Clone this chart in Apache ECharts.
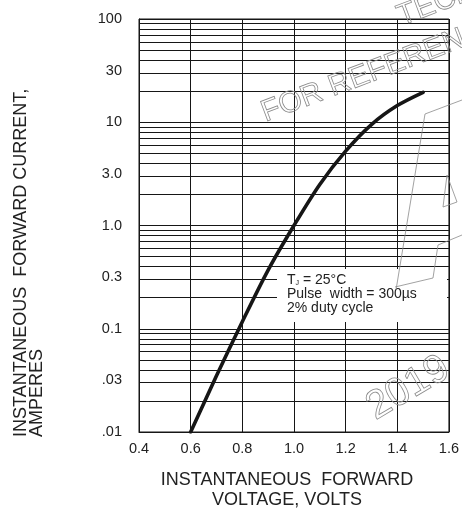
<!DOCTYPE html>
<html>
<head>
<meta charset="utf-8">
<script src="https://cdn.jsdelivr.net/npm/echarts@6/dist/echarts.min.js"></script>
<style>
  html, body { margin: 0; padding: 0; background: #fff; }
  #chart { width: 462px; height: 511px; }
</style>
</head>
<body>
<div id="chart"></div>
<script>
// forward voltage (V) and forward current (A)
const voltage = [0.6, 0.7, 0.8, 0.9, 1.0, 1.1, 1.2, 1.3, 1.4, 1.5];
const current = [0.01, 0.035, 0.117, 0.37, 1.0, 2.5, 5.25, 9.5, 14.5, 19.5];

const yTickLabels = ['.01', '.03', '0.1', '0.3', '1.0', '3.0', '10', '30', '100'];
const decades = [0.01, 0.1, 1, 10];
const minorSteps = [1, 2, 3, 4, 5, 6, 7, 8, 9];

const FONT = '"Liberation Sans", Arial, Helvetica, sans-serif';
const INK = '#161616';

// log grid lines: 1..9 x every decade, plus the top line
const gridValues = [];
decades.forEach(d => minorSteps.forEach(m => gridValues.push(Number((m * d).toPrecision(3)))));
gridValues.push(100);

const chart = echarts.init(document.getElementById('chart'));

const watermark = { fill: 'none', stroke: '#8a8a8a', lineWidth: 0.8 };

chart.setOption({
  animation: false,
  grid: {
    left: 139, right: 8, top: 19, bottom: 79,
    show: true, borderColor: INK, borderWidth: 1
  },
  xAxis: {
    type: 'value',
    min: 0.4, max: 1.6, interval: 0.2,
    axisLine: { show: true, lineStyle: { color: INK, width: 1 } },
    axisTick: { show: false },
    axisLabel: {
      margin: 9, color: '#222', fontSize: 14.5, fontFamily: FONT,
      formatter: v => v.toFixed(1)
    },
    splitLine: { show: true, lineStyle: { color: INK, width: 1 } }
  },
  yAxis: {
    type: 'log',
    logBase: Math.sqrt(10),
    min: 0.01, max: 100, splitNumber: 8,
    axisLine: { show: true, lineStyle: { color: INK, width: 1 } },
    axisTick: { show: false },
    axisLabel: {
      margin: 17, color: '#222', fontSize: 14.5, fontFamily: FONT,
      padding: [0, 0, 5, 0],
      formatter: (v, i) => yTickLabels[i]
    },
    splitLine: { show: false }
  },
  series: [{
    type: 'line',
    data: voltage.map((v, i) => [v, current[i]]),
    smooth: 0.3,
    showSymbol: false,
    lineStyle: { color: INK, width: 3.6, cap: 'round' },
    z: 5,
    markLine: {
      silent: true,
      symbol: 'none',
      label: { show: false },
      lineStyle: { color: INK, width: 1, type: 'solid' },
      data: gridValues.map(v => ({ yAxis: v })),
      z: 1
    }
  }],
  graphic: [
    // annotation box
    {
      type: 'rect', z: 50,
      shape: { x: 277, y: 269, width: 170, height: 53 },
      style: { fill: '#fff' }
    },
    {
      type: 'text', z: 51, x: 287, y: 273,
      style: {
        text: '{n|T}{s|J}{n| = 25°C}\n{n|Pulse  width = 300µs}\n{n|2% duty cycle}',
        rich: {
          n: { fontSize: 14, fontFamily: FONT, fill: '#222', lineHeight: 14 },
          s: { fontSize: 7, fontFamily: FONT, fill: '#222', lineHeight: 14, verticalAlign: 'bottom' }
        }
      }
    },
    // axis titles
    {
      type: 'text', z: 51, x: 287, y: 470,
      style: {
        text: 'INSTANTANEOUS  FORWARD\nVOLTAGE, VOLTS',
        font: '18px ' + FONT, fill: '#222',
        align: 'center', lineHeight: 20
      }
    },
    {
      type: 'text', z: 51, x: 13, y: 437, rotation: Math.PI / 2,
      style: {
        text: 'INSTANTANEOUS  FORWARD CURRENT,\nAMPERES',
        font: '18px ' + FONT, fill: '#222',
        align: 'left', verticalAlign: 'top', lineHeight: 16
      }
    },
    // faint outlined watermark
    {
      type: 'text', z: 60, x: 268, y: 128, rotation: Math.PI * 0.115,
      style: Object.assign({ text: 'FOR REFERENCE', font: '30px ' + FONT, verticalAlign: 'bottom' }, watermark)
    },
    {
      type: 'text', z: 60, x: 404, y: 32, rotation: Math.PI * 0.115,
      style: Object.assign({ text: 'TECHNICAL', font: '30px ' + FONT, verticalAlign: 'bottom' }, watermark)
    },
    {
      type: 'text', z: 60, x: 380, y: 428, rotation: Math.PI * 0.17,
      style: Object.assign({ text: '2019', font: '40px ' + FONT, verticalAlign: 'bottom' }, watermark)
    },
    {
      type: 'polyline', z: 60,
      shape: { points: [[396, 290], [425, 114], [462, 100]] },
      style: { stroke: '#8a8a8a', lineWidth: 0.8, fill: null }
    },
    {
      type: 'polyline', z: 60,
      shape: { points: [[395, 287], [433, 278], [438, 245], [462, 235]] },
      style: { stroke: '#8a8a8a', lineWidth: 0.8, fill: null }
    },
    {
      type: 'polygon', z: 60,
      shape: { points: [[447, 175], [443, 207], [457, 202]] },
      style: { stroke: '#8a8a8a', lineWidth: 0.8, fill: null }
    }
  ]
});
</script>
</body>
</html>
